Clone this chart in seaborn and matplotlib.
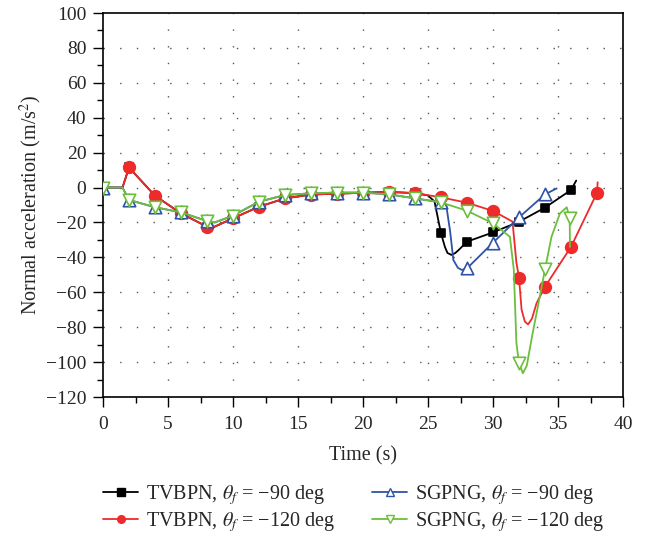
import numpy as np
import pandas as pd
import matplotlib
matplotlib.use("Agg")
import matplotlib.pyplot as plt
from matplotlib.lines import Line2D
from matplotlib.ticker import MultipleLocator
import seaborn as sns

# ---------------- data ----------------
# TVBPN, theta_f = -90 deg (black)
tv90_t = [0, 1.5, 2, 4, 6, 8, 8.3, 10, 12, 14, 16, 18, 20, 22, 24, 25, 25.5,
          26, 26.3, 26.5, 26.8, 27.1, 27.4, 28, 30, 32, 34, 36, 36.4]
tv90_v = [0, 0, 11.5, -4.7, -14.8, -22.4, -23.4, -17.6, -11, -6.2, -4, -3.5, -3,
          -2.5, -3.2, -4.5, -8, -26.2, -34, -37.5, -38.6, -37.5, -35.5, -31,
          -25.7, -19.6, -11.5, -1.4, 4]
tv90_mark_t = [2, 4, 6, 8, 10, 12, 14, 16, 18, 20, 22, 24, 26, 28, 30, 32, 34, 36]

# TVBPN, theta_f = -120 deg (red)
tv120_t = [0, 1.5, 2, 4, 6, 8, 8.3, 10, 12, 14, 16, 18, 20, 22, 24, 26, 28, 30,
           31.5, 31.8, 32, 32.2, 32.45, 32.7, 33.0, 33.35, 34, 36, 38, 38.05]
tv120_v = [0, 0, 11.5, -4.7, -14.8, -22.4, -23.4, -17.6, -11, -6.2, -4, -3.5, -3,
           -2.5, -3.2, -5.6, -8.7, -13.4, -19.5, -43, -51.6, -70, -76.8, -78.4,
           -75, -66.3, -56.8, -34, -3, 3]
tv120_mark_t = [2, 4, 6, 8, 10, 12, 14, 16, 18, 20, 22, 24, 26, 28, 30, 32, 34, 36, 38]

# SGPNG, theta_f = -90 deg (blue)
sg90_t = [0, 1.5, 2, 4, 6, 8, 8.6, 10, 12, 14, 16, 18, 20, 22, 24, 26, 26.4,
          26.7, 26.95, 27.3, 27.6, 28, 30, 32, 34, 34.9]
sg90_v = [0, 0, -7.1, -11.3, -14.2, -19.2, -20, -16.1, -8.1, -4.3, -3.3, -2.9,
          -2.9, -3.9, -6.2, -8.5, -10, -25, -41.5, -46, -47.2, -46.3, -31.6,
          -17.1, -3.9, -0.5]
sg90_mark_t = [0, 2, 4, 6, 8, 10, 12, 14, 16, 18, 20, 22, 24, 26, 28, 30, 32, 34]

# SGPNG, theta_f = -120 deg (green)
sg120_t = [0, 1.5, 2, 4, 6, 8, 8.6, 10, 12, 14, 16, 18, 20, 22, 24, 26, 28, 30,
           31.3, 31.6, 31.8, 32, 32.3, 32.6, 33.0, 33.5, 34, 34.5, 35.15, 35.67,
           35.9, 35.92]
sg120_v = [0, 0, -7.1, -11.3, -14.2, -19.2, -20, -16.1, -8.1, -4.3, -3.3, -2.9,
           -2.9, -3.9, -6.2, -8.5, -13.3, -20.5, -28.2, -47, -89, -100.7, -106.4,
           -102, -85.4, -66.3, -46.9, -28.2, -14.8, -11.3, -17.6, -34]
sg120_mark_t = [0, 2, 4, 6, 8, 10, 12, 14, 16, 18, 20, 22, 24, 26, 28, 30, 32, 34, 35.9]

labels = ["TVBPN, $\\theta_f$ = \u221290 deg",
          "TVBPN, $\\theta_f$ = \u2212120 deg",
          "SGPNG, $\\theta_f$ = \u221290 deg",
          "SGPNG, $\\theta_f$ = \u2212120 deg"]
x_ticks = [0, 5, 10, 15, 20, 25, 30, 35, 40]
y_ticks = [-120, -100, -80, -60, -40, -20, 0, 20, 40, 60, 80, 100]

# ---------------- style ----------------
sns.set_theme(style="white")
plt.rcParams["font.family"] = ["Liberation Serif", "DejaVu Serif"]
plt.rcParams["mathtext.fontset"] = "stix"

W, H = 658, 534
fig = plt.figure(figsize=(W / 100, H / 100), dpi=100)
ax = fig.add_axes([103 / W, 1 - 397 / H, 520 / W, 384 / H])

series = [
    (tv90_t, tv90_v, tv90_mark_t, "#000000", "s", 40, "#000000"),
    (tv120_t, tv120_v, tv120_mark_t, "#ee2a2a", "o", 70, "#ee2a2a"),
    (sg90_t, sg90_v, sg90_mark_t, "#2f53a6", "^", 80, "white"),
    (sg120_t, sg120_v, sg120_mark_t, "#6cbf3c", "v", 80, "white"),
]

# grid (dotted)
for xv in x_ticks[1:-1]:
    ax.axvline(xv, color="#555555", lw=1.0, ls=(0, (1, 11)), zorder=0)
for yv in y_ticks[1:-1]:
    ax.axhline(yv, color="#555555", lw=1.0, ls=(0, (1, 11)), zorder=0)

handles = []
for i, (t, v, mt, col, mk, s, fc) in enumerate(series):
    df = pd.DataFrame({"t": t, "v": v})
    sns.lineplot(data=df, x="t", y="v", sort=False, estimator=None, color=col,
                 lw=1.3, ax=ax, zorder=2 + i)
    lookup = dict(zip(t, v))
    dm = pd.DataFrame({"t": mt, "v": [lookup[x] for x in mt]})
    sns.scatterplot(data=dm, x="t", y="v", marker=mk, s=s, color=fc,
                    edgecolor=col, linewidth=1.2, ax=ax, zorder=2.5 + i)
    handles.append(Line2D([0], [0], color=col, lw=1.3, marker=mk, markersize=5.5,
                          markerfacecolor=fc, markeredgecolor=col, markeredgewidth=1.0))

ax.set_xlim(0, 40)
ax.set_ylim(-120, 100)
ax.set_xticks(x_ticks)
ax.set_yticks(y_ticks)
ax.xaxis.set_minor_locator(MultipleLocator(2.5))
ax.yaxis.set_minor_locator(MultipleLocator(10))
ax.tick_params(axis="both", which="major", direction="out", length=7, width=1.0,
               labelsize=14, color="black", bottom=True, left=True)
ax.tick_params(axis="x", which="major", pad=6.5)
ax.tick_params(axis="y", which="major", pad=5)
ax.tick_params(axis="both", which="minor", direction="out", length=4, width=1.0,
               color="black", bottom=True, left=True)
ax.set_yticklabels([str(y).replace("-", "\u2212") for y in y_ticks])
for sp in ax.spines.values():
    sp.set_color("black")
    sp.set_linewidth(1.2)

ax.set_xlabel("Time (s)", fontsize=14.5, labelpad=10)
ax.set_ylabel(r"Normal acceleration (m/s$^2$)", fontsize=14.5, labelpad=1.5)

leg_kw = dict(loc="upper left", frameon=False, fontsize=14.5, handlelength=1.75,
              handletextpad=0.4, labelspacing=0.14, borderpad=0, borderaxespad=0)
fig.legend(handles[:2], labels[:2], bbox_to_anchor=(103 / W, 1 - 483 / H), **leg_kw)
fig.legend(handles[2:], labels[2:], bbox_to_anchor=(372 / W, 1 - 483 / H), **leg_kw)

fig.savefig("out.png", dpi=100)
